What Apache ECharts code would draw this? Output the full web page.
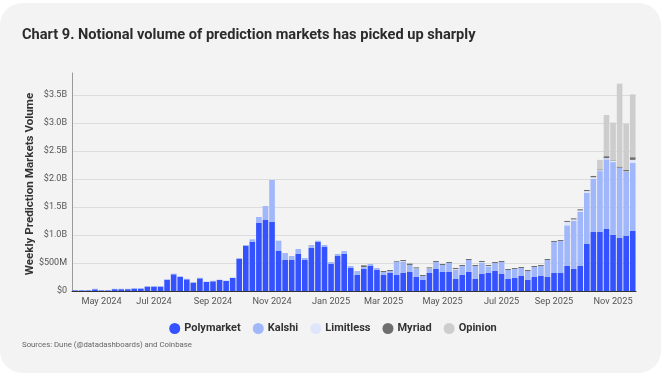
<!DOCTYPE html>
<html><head><meta charset="utf-8">
<script src="https://cdn.jsdelivr.net/npm/echarts@6/dist/echarts.min.js"></script>
<style>
html,body{margin:0;padding:0;background:#fff;width:666px;height:376px;overflow:hidden;}
#card{position:absolute;left:0;top:3px;width:661px;height:370px;background:#f3f3f3;border-radius:22px;}
#chart{position:absolute;left:0;top:0;width:666px;height:376px;}
</style></head>
<body><div id="card"></div><div id="chart"></div>
<script>
const weeks = [
 '2024-04-08','2024-04-15','2024-04-22','2024-04-29','2024-05-06','2024-05-13','2024-05-20','2024-05-27',
 '2024-06-03','2024-06-10','2024-06-17','2024-06-24','2024-07-01','2024-07-08','2024-07-15','2024-07-22',
 '2024-07-29','2024-08-05','2024-08-12','2024-08-19','2024-08-26','2024-09-02','2024-09-09','2024-09-16',
 '2024-09-23','2024-09-30','2024-10-07','2024-10-14','2024-10-21','2024-10-28','2024-11-04','2024-11-11',
 '2024-11-18','2024-11-25','2024-12-02','2024-12-09','2024-12-16','2024-12-23','2024-12-30','2025-01-06',
 '2025-01-13','2025-01-20','2025-01-27','2025-02-03','2025-02-10','2025-02-17','2025-02-24','2025-03-03',
 '2025-03-10','2025-03-17','2025-03-24','2025-03-31','2025-04-07','2025-04-14','2025-04-21','2025-04-28',
 '2025-05-05','2025-05-12','2025-05-19','2025-05-26','2025-06-02','2025-06-09','2025-06-16','2025-06-23',
 '2025-06-30','2025-07-07','2025-07-14','2025-07-21','2025-07-28','2025-08-04','2025-08-11','2025-08-18',
 '2025-08-25','2025-09-01','2025-09-08','2025-09-15','2025-09-22','2025-09-29','2025-10-06','2025-10-13',
 '2025-10-20','2025-10-27','2025-11-03','2025-11-10','2025-11-17','2025-11-24'
];
// weekly notional volume, USD millions
const polymarket = [
 12,12,12,30,12,12,32,32,32,42,42,78,78,78,200,298,250,208,149,226,
 161,173,196,179,232,577,809,881,1220,1267,1232,714,553,553,660,553,768,875,785,482,
 625,660,410,286,393,446,375,286,321,286,321,339,250,196,321,393,339,339,214,286,
 339,214,303,321,357,303,214,232,268,196,250,268,250,321,321,446,393,446,839,1053,
 1053,1107,1000,946,982,1071
];
const kalshi = [
 5,5,5,10,5,5,8,8,8,10,10,9,9,9,8,12,12,10,10,10,
 6,10,6,6,6,6,12,41,101,250,749,184,125,72,90,36,53,23,36,36,
 35,54,36,71,35,36,35,53,36,238,197,125,143,72,72,125,125,161,161,160,
 214,232,197,107,143,215,161,161,142,161,178,178,303,554,572,726,857,964,911,947,
 1087,1243,1300,1254,1143,1219
];
const limitless = [
 0,0,0,0,0,0,0,0,0,0,0,0,0,0,0,0,0,0,0,0,
 0,0,0,0,0,0,0,0,0,0,0,0,0,0,0,0,0,0,0,0,
 0,0,0,0,0,0,0,0,0,0,15,0,10,0,10,0,0,0,16,0,
 0,0,16,16,0,0,0,0,0,0,0,0,0,0,0,60,27,28,33,30,
 15,20,20,0,10,50
];
const myriad = [
 0,0,0,0,0,0,0,0,0,0,0,0,0,0,0,0,0,0,0,0,
 0,0,0,0,0,0,0,0,0,0,0,0,0,0,0,0,0,0,0,0,
 0,0,0,0,30,0,0,18,18,12,20,24,19,18,19,18,18,18,20,18,
 18,18,20,20,18,18,18,17,18,18,18,18,18,18,17,18,20,20,20,23,
 15,36,10,20,25,48
];
const opinion = [
 0,0,0,0,0,0,0,0,0,0,0,0,0,0,0,0,0,0,0,0,
 0,0,0,0,0,0,0,0,0,0,0,0,0,0,0,0,0,0,0,0,
 0,0,0,0,0,0,0,0,0,0,0,0,0,0,0,0,0,0,0,0,
 0,0,0,0,0,0,0,0,0,0,0,0,0,0,0,0,0,0,0,0,
 170,735,675,1480,820,1120
];
const seriesNames = ['Polymarket','Kalshi','Limitless','Myriad','Opinion'];
const seriesColors = ['#3452ff','#a0b7fc','#dfe6fb','#6e6e6e','#cdcdcd'];
const monthNames = ['Jan','Feb','Mar','Apr','May','Jun','Jul','Aug','Sep','Oct','Nov','Dec'];
const yTicks = {0:'$0',500:'$500M',1000:'$1.0B',1500:'$1.5B',2000:'$2.0B',2500:'$2.5B',3000:'$3.0B',3500:'$3.5B'};
const yAxisTitle = 'Weekly Prediction Markets Volume';

const FONT = 'Roboto';
function isLabelWeek(s){
  const m = +s.slice(5,7), d = +s.slice(8,10);
  return d <= 7 && (m % 2 === 1);
}
const data = [polymarket, kalshi, limitless, myriad, opinion];
const chart = echarts.init(document.getElementById('chart'));
chart.setOption({
  animation:false,
  backgroundColor:'transparent',
  textStyle:{fontFamily:FONT},
  title:{
    text:'Chart 9. Notional volume of prediction markets has picked up sharply',
    left:22, top:28, padding:0,
    textStyle:{fontFamily:FONT,fontSize:14.6,fontWeight:'bold',color:'#2b2b2b'}
  },
  legend:{
    top:318, left:'center',
    icon:'circle', itemWidth:11, itemHeight:11, itemGap:12,
    textStyle:{fontFamily:FONT,fontSize:11,fontWeight:'bold',color:'#333',padding:[0,0,0,-1]},
    data:seriesNames
  },
  graphic:[{
    type:'text', left:22, top:341,
    style:{text:'Sources: Dune (@datadashboards) and Coinbase',fontFamily:FONT,fontSize:7.8,fill:'#666'}
  },{
    type:'text', x:30, y:184, rotation:Math.PI/2,
    style:{text:yAxisTitle,fontFamily:FONT,fontSize:11.6,fontWeight:'bold',fill:'#333',align:'center',verticalAlign:'middle'}
  }],
  grid:{left:72,right:30,top:73,bottom:85},
  xAxis:{
    type:'category', data:weeks,
    axisLine:{lineStyle:{color:'#333',width:1}},
    axisTick:{show:false},
    axisLabel:{
      interval:(i,v)=>isLabelWeek(v),
      formatter:(v)=>monthNames[+v.slice(5,7)-1]+' '+v.slice(0,4),
      fontFamily:FONT,fontSize:9.2,color:'#555',margin:6
    }
  },
  yAxis:{
    type:'value', min:0, max:3890, interval:500,
    axisLine:{show:true,lineStyle:{color:'#999',width:1}},
    axisTick:{show:false},
    axisLabel:{formatter:(v)=>yTicks[v]!==undefined?yTicks[v]:'',fontFamily:FONT,fontSize:9,color:'#555',margin:5,showMaxLabel:false},
    splitLine:{show:true,showMaxLine:false,showMinLine:false,lineStyle:{color:'#dcdcdc',width:1.2}}
  },
  series: seriesNames.map((n,k)=>({
    name:n, type:'bar', stack:'vol', data:data[k],
    barCategoryGap:'14%',
    itemStyle:{color:seriesColors[k]}
  }))
});
</script></body></html>
